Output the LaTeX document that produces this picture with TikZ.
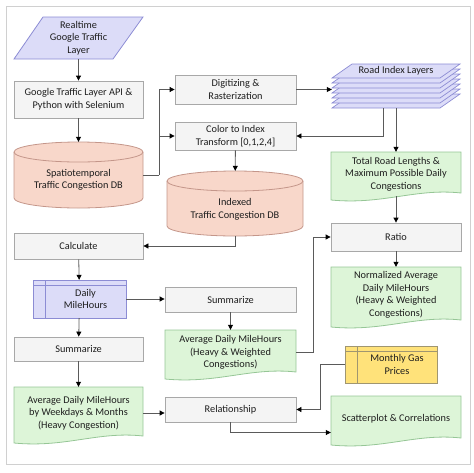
\documentclass[tikz,border=0pt]{standalone}
\usepackage{fontspec}
\setmainfont{Carlito}
\usetikzlibrary{arrows.meta}

\definecolor{lavfill}{RGB}{220,220,248}
\definecolor{lavline}{RGB}{140,140,212}
\definecolor{pinkfill}{RGB}{248,215,202}
\definecolor{pinkline}{RGB}{196,150,138}
\definecolor{procfill}{RGB}{244,244,244}
\definecolor{procline}{RGB}{168,168,168}
\definecolor{docfill}{RGB}{221,245,216}
\definecolor{docline}{RGB}{150,198,150}
\definecolor{gasfill}{RGB}{255,226,122}
\definecolor{gasline}{RGB}{160,150,112}
\definecolor{framec}{RGB}{208,208,208}
\definecolor{textc}{RGB}{30,30,30}
\definecolor{linkc}{RGB}{90,90,90}

\tikzset{
  txt/.style={align=center,text=textc,font=\fontsize{10.3}{12.6}\selectfont,inner sep=0pt},
  proc/.style={txt,draw=procline,fill=procfill,line width=0.8pt,minimum width=#1},
  shapebox/.style={txt,minimum width=#1},
  link/.style={draw=linkc,line width=0.8pt},
  arr/.style={link,-{Triangle[length=5pt,width=5pt,color=black]}}
}

% document shape: x1, x2, top, bottom left
\newcommand{\docshape}[4]{%
  \filldraw[draw=docline,fill=docfill,line width=0.8pt]
    (#1,#3) -- (#2,#3) -- (#2,#4-7)
    .. controls ({#2-0.35*(#2-#1)},#4-12) and ({#1+0.4*(#2-#1)},#4+5) .. (#1,#4) -- cycle;}
% database cylinder: x1, x2, top, bottom
\newcommand{\dbshape}[4]{%
  \filldraw[draw=pinkline,fill=pinkfill,line width=0.8pt]
    (#1,#3+10) arc[start angle=180,end angle=360,x radius={(#2-#1)/2},y radius=10]
    -- (#2,#4-10) arc[start angle=0,end angle=180,x radius={(#2-#1)/2},y radius=10] -- cycle;
  \draw[pinkline,line width=0.8pt]
    (#1,#3+10) arc[start angle=180,end angle=0,x radius={(#2-#1)/2},y radius=10];}

\begin{document}
\begin{tikzpicture}[x=1pt,y=-1pt]
  \useasboundingbox (0,0) rectangle (474,472);
  \draw[framec,line width=1pt] (6,6) rectangle (470,464);

  % left column
  \filldraw[draw=lavline,fill=lavfill,line width=0.8pt] (43,17) -- (143,17) -- (113,59) -- (14,59) -- cycle;
  \node[shapebox=100,minimum height=42] (rtl) at (78.5,38) {Realtime\\Google Traffic\\Layer};
  \node[proc=129,minimum height=37] (api) at (78.5,99.5) {Google Traffic Layer API \&\\Python with Selenium};
  \dbshape{14}{143}{142}{208}
  \node[shapebox=129,minimum height=66,
    label={[txt,yshift=-5pt]center:Spatiotemporal\\Traffic Congestion DB}] (sdb) at (78.5,175) {};
  \node[proc=129,minimum height=26] (calc) at (78.5,246) {Calculate};
  \filldraw[draw=lavline,fill=lavfill,line width=0.8pt] (33,280) rectangle (126,318);
  \draw[lavline,line width=0.8pt] (33,285) -- (126,285) (45,280) -- (45,318);
  \node[shapebox=93,minimum height=38,
    label={[txt,xshift=6pt]center:Daily\\MileHours}] (dmh) at (79.5,299) {};
  \node[proc=129,minimum height=24] (suml) at (78.5,349) {Summarize};
  \docshape{14}{143}{387}{443}
  \node[shapebox=129,minimum height=52] (avgl) at (78.5,413) {Average Daily MileHours\\by Weekdays \& Months\\(Heavy Congestion)};

  % middle column
  \node[proc=121,minimum height=29] (dig) at (235.5,89.5) {Digitizing \&\\Rasterization};
  \node[proc=121,minimum height=28] (cti) at (235.5,136) {Color to Index\\Transform [0,1,2,4]};
  \dbshape{167}{303}{171}{236}
  \node[shapebox=136,minimum height=65,
    label={[txt,yshift=-6pt]center:Indexed\\Traffic Congestion DB}] (idb) at (235,203.5) {};
  \node[proc=131,minimum height=25] (sumr) at (230.5,299.5) {Summarize};
  \docshape{165}{296}{330}{379}
  \node[shapebox=131,minimum height=45] (avgr) at (230.5,352.5) {Average Daily MileHours\\(Heavy \& Weighted\\Congestions)};
  \node[proc=131,minimum height=25] (rel) at (230.5,409.5) {Relationship};

  % right column
  \foreach \i in {6,...,0}
    \filldraw[draw=lavline,fill=lavfill,line width=0.7pt]
      (352,64+5*\i) -- (460,64+5*\i) -- (440,78+5*\i) -- (332,78+5*\i) -- cycle;
  \node[shapebox=128,minimum height=44,
    label={[txt,yshift=15pt]center:Road Index Layers}] (ril) at (396,86) {};
  \docshape{331}{461}{152}{200}
  \node[shapebox=130,minimum height=44] (trl) at (396,174) {Total Road Lengths \&\\Maximum Possible Daily\\Congestions};
  \node[proc=130,minimum height=28] (ratio) at (396,237) {Ratio};
  \docshape{331}{461}{267}{327}
  \node[shapebox=130,minimum height=56] (norm) at (396,295) {Normalized Average\\Daily MileHours\\(Heavy \& Weighted\\Congestions)};
  \filldraw[draw=gasline,fill=gasfill,line width=0.8pt] (345,346) rectangle (437,383);
  \draw[gasline,line width=0.8pt] (345,351) -- (437,351) (357,346) -- (357,383);
  \node[shapebox=92,minimum height=37,
    label={[txt,xshift=6pt]center:Monthly Gas\\Prices}] (gas) at (391,364.5) {};
  \docshape{331}{461}{396}{445}
  \node[shapebox=130,minimum height=45] (scat) at (396,418.5) {Scatterplot \& Correlations};

  % connectors
  \coordinate (split) at (159,175);
  \draw[arr] (rtl) -- (api);
  \draw[arr] (api) -- (sdb);
  \draw[link] (sdb.east) -- (split);
  \draw[arr] (split) |- (dig.west);
  \draw[arr] (split) |- (cti.west);
  \draw[arr] (dig.east) -- (dig.east -| ril.west);
  \draw[arr] ([xshift=-13pt]ril.south) |- (cti.east);
  \draw[arr] (ril.south) -- (trl.north);
  \draw[arr] (cti) -- (idb);
  \draw[arr] (idb.south) |- (calc.east);
  \draw[arr] (trl.south) -- (ratio.north);
  \draw[arr] (ratio) -- (norm);
  \draw[arr] (calc) -- (dmh);
  \draw[arr] (dmh.east) -- (dmh.east -| sumr.west);
  \draw[arr] (sumr) -- (avgr);
  \draw[arr] (avgr.east) -- ++(17,0) |- (ratio.west);
  \draw[arr] (dmh) -- (suml);
  \draw[arr] (suml) -- (avgl);
  \draw[arr] (avgl.east) -- (avgl.east -| rel.west);
  \draw[arr] (gas.west) -- ++(-24,0) |- (rel.east);
  \draw[arr] (rel.south) |- ([yshift=-14pt]scat.west);
\end{tikzpicture}
\end{document}
